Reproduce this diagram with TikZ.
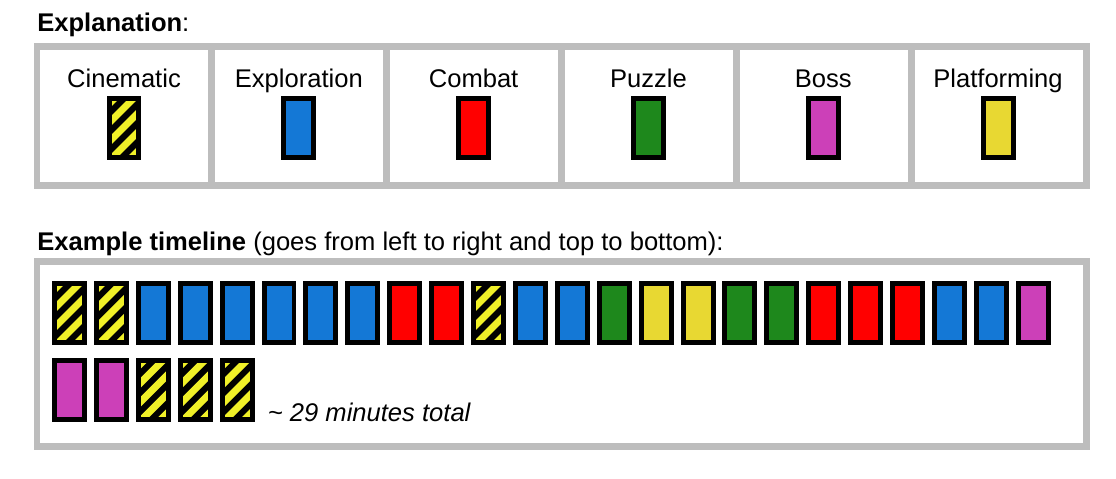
\documentclass[tikz,border=0pt]{standalone}
\usepackage{fontspec}
\setmainfont{Liberation Sans}
\usepackage{xcolor}
\definecolor{framegray}{RGB}{189,189,189}
\definecolor{explblue}{RGB}{20,120,214}
\definecolor{combatred}{RGB}{255,0,0}
\definecolor{puzzlegreen}{RGB}{30,136,28}
\definecolor{bossmagenta}{RGB}{204,64,184}
\definecolor{platyellow}{RGB}{232,216,50}
\definecolor{hatchyellow}{RGB}{240,240,40}
\usetikzlibrary{positioning}
\usetikzlibrary{calc}
\tikzset{
	frame/.style={draw=framegray, line width=0.14cm},
	blk/.style={draw=black, line width=0.1cm, minimum width=0.6cm, minimum height=1.18cm, inner sep=0pt},
	cine/.style={fill=black, path picture={%
			\foreach \c in {6,25,44,63,82}
			\draw[hatchyellow, line width=0.14cm]
			([shift={(-40,\c+40)}]path picture bounding box.north west) --
			([shift={(\c+40,-40)}]path picture bounding box.north west);}},
	expl/.style={fill=explblue},
	combat/.style={fill=combatred},
	puzzle/.style={fill=puzzlegreen},
	boss/.style={fill=bossmagenta},
	plat/.style={fill=platyellow},
	txt/.style={inner sep=0pt, font=\fontsize{14.55}{17}\selectfont}
}

\begin{document}
\begin{tikzpicture}[x=0.02cm, y=-0.02cm]
	\useasboundingbox (0,0) rectangle (1116,478);
	
	% Explanation
	\node[txt, anchor=base west] (explTitle) at (37,31) {\textbf{Explanation}:};
	\draw[frame] (37,46) rectangle (1086.5,185.5);
	\foreach \x in {211,386,561,736,911}
		\draw[frame] (\x,46) -- (\x,185.5);
	\foreach \lbl/\kind [count=\i from 0] in {Cinematic/cine, Exploration/expl, Combat/combat, Puzzle/puzzle, Boss/boss, Platforming/plat}
	{
		\node[txt, anchor=base] (lbl\i) at (124+174.8*\i,87) {\lbl};
		\node[blk, \kind] (key\i) at (124+174.8*\i,127.5) {};
	}
	
	% Example timeline
	\node[txt, anchor=base west] (lineTitle) at (37,250)
	{\textbf{Example timeline} (goes from left to right and top to bottom):};
	\draw[frame] (37,261.5) rectangle (1086.5,446.5);
	
	% first row
	\foreach \kind [count=\i from 0] in {cine,cine,expl,expl,expl,expl,expl,expl,combat,combat,cine,expl,expl,puzzle,plat,plat,puzzle,puzzle,combat,combat,combat,expl,expl,boss}
		\node[blk, \kind] (top\i) at (69.5+41.9*\i,313) {};
	
	% second row
	\foreach \kind [count=\i from 0] in {boss,boss,cine,cine,cine}
		\node[blk, \kind] (bot\i) at (69.5+41.9*\i,389.5) {};
	
	\node[txt, anchor=base west, xshift=0.26cm] (total) at (bot4.south east)
	{\itshape \textasciitilde{} 29 minutes total};
	
\end{tikzpicture}
\end{document}
